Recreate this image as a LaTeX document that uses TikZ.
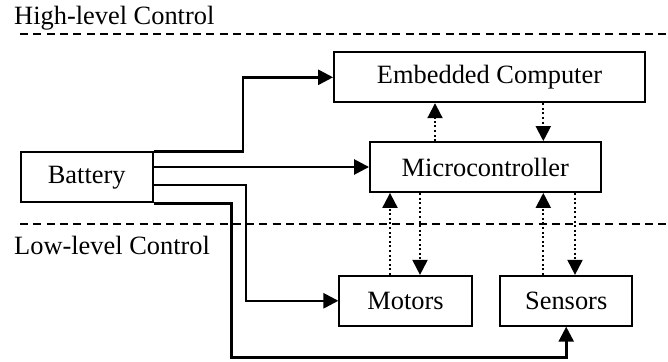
\documentclass[tikz,border=0pt]{standalone}
\usepackage{fontspec}
\setmainfont{Liberation Serif}
\usetikzlibrary{arrows.meta,calc}

\tikzset{
  block/.style={draw, line width=1.8pt, fill=white, inner sep=0pt,
    font=\fontsize{26.4}{30}\selectfont, minimum height=50pt},
  power/.style={line width=2.6pt, -{Triangle[length=15pt,width=15pt]}},
  signal/.style={line width=2pt, dash pattern=on 2pt off 2.6pt,
    -{Triangle[length=15pt,width=15pt]}},
  divider/.style={line width=1.6pt, dash pattern=on 8pt off 5.3pt},
  layer/.style={anchor=base west, inner sep=0pt, font=\fontsize{26.4}{30}\selectfont}
}

\begin{document}
\begin{tikzpicture}[x=1pt, y=-1pt]
  \useasboundingbox (0,0) rectangle (668,361);

  % layer labels and separators
  \node[layer] (high) at (14,25) {High-level Control};
  \node[layer] (low) at (14,254) {Low-level Control};
  \coordinate (d1a) at (20,34);  \coordinate (d1b) at (668,34);
  \coordinate (d2a) at (20,224); \coordinate (d2b) at (668,224);
  \draw[divider] (d1a) -- (d1b);
  \draw[divider] (d2a) -- (d2b);

  % blocks
  \node[block, minimum width=132pt] (bat) at (86.7,177.3) {Battery};
  \node[block, minimum width=311pt] (emb) at (489.5,77.3) {Embedded Computer};
  \node[block, minimum width=230.7pt] (mcu) at (485.3,167) {Microcontroller};
  \node[block, minimum width=132.4pt] (mot) at (405.5,300.8) {Motors};
  \node[block, minimum width=132.3pt] (sen) at (566.2,300.8) {Sensors};

  % power distribution from the battery
  \coordinate (p1) at (243,0);
  \coordinate (p3) at (152.7,185);
  \coordinate (p3v) at (246,0);
  \coordinate (p4v) at (231.7,0);
  \coordinate (p4b) at (0,357.7);
  \draw[power] (bat.north east) -| (p1 |- emb.west) -- (emb.west);
  \draw[power] (bat.east |- mcu.west) -- (mcu.west);
  \draw[power] (p3) -| (p3v |- mot.west) -- (mot.west);
  \draw[power] (bat.south east) -| (p4v |- p4b) -| (sen.south);

  % signal links
  \coordinate (s1) at (435,0);
  \coordinate (s2) at (543.3,0);
  \coordinate (s3) at (390,0);
  \coordinate (s4) at (420,0);
  \coordinate (s5) at (543.3,0);
  \coordinate (s6) at (575,0);
  \draw[signal] (s1 |- mcu.north) -- (s1 |- emb.south);
  \draw[signal] (s2 |- emb.south) -- (s2 |- mcu.north);
  \draw[signal] (s3 |- mot.north) -- (s3 |- mcu.south);
  \draw[signal] (s4 |- mcu.south) -- (s4 |- mot.north);
  \draw[signal] (s5 |- sen.north) -- (s5 |- mcu.south);
  \draw[signal] (s6 |- mcu.south) -- (s6 |- sen.north);
\end{tikzpicture}
\end{document}
